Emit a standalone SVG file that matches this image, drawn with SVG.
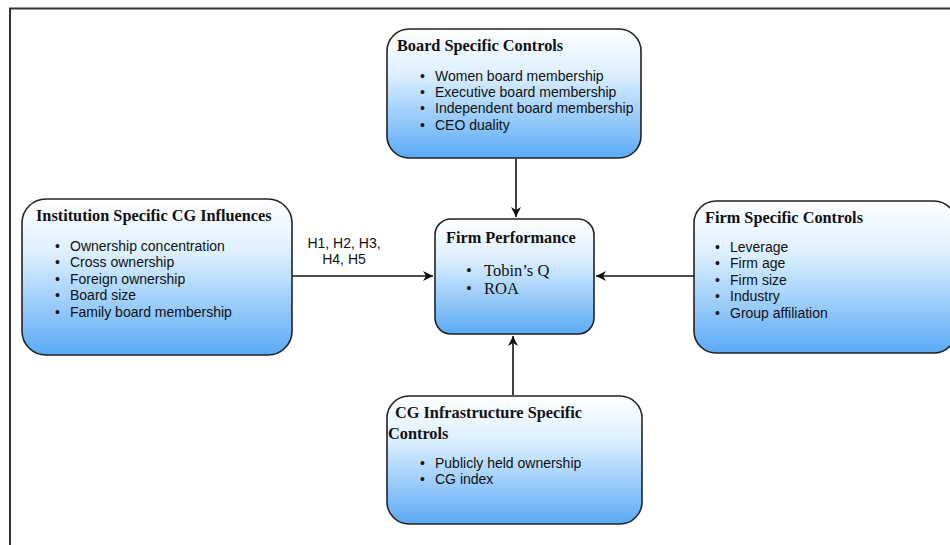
<svg xmlns="http://www.w3.org/2000/svg" width="950" height="545" viewBox="0 0 950 545">
<defs>
<linearGradient id="g" x1="0" y1="0" x2="0" y2="1">
<stop offset="0" stop-color="#ffffff"/>
<stop offset="0.35" stop-color="#dcefff"/>
<stop offset="1" stop-color="#5aaaf5"/>
</linearGradient>
<marker id="ah" viewBox="0 0 10 10" refX="10" refY="5" markerWidth="10" markerHeight="10" markerUnits="userSpaceOnUse" orient="auto">
<path d="M0,0 L10,5 L0,10 L3,5 Z" fill="#111"/>
</marker>
<style>
.box{fill:url(#g);stroke:#222;stroke-width:1.6}
.t{font-family:"Liberation Serif","Times New Roman",serif;font-weight:bold;font-size:16.3px;fill:#111}
.s{font-family:"Liberation Sans",Arial,sans-serif;font-size:14px;fill:#111}
.r{font-family:"Liberation Serif","Times New Roman",serif;font-size:16.5px;fill:#111}
.c{stroke:#111;stroke-width:1.6;fill:none;marker-end:url(#ah)}
</style>
</defs>
<rect width="950" height="545" fill="#fff"/>
<path d="M10,545 V8.5 H950" fill="none" stroke="#333" stroke-width="2"/>
<g id="connectors">
<line class="c" x1="516" y1="159" x2="516" y2="217"/>
<line class="c" x1="513" y1="395" x2="513" y2="336"/>
<line class="c" x1="292" y1="276" x2="433" y2="276"/>
<line class="c" x1="694" y1="276" x2="596" y2="276"/>
<text class="s" x="344" y="248" text-anchor="middle">H1, H2, H3,</text>
<text class="s" x="344" y="264" text-anchor="middle">H4, H5</text>
</g>
<g id="board">
<rect class="box" x="387" y="29" width="254" height="129" rx="22"/>
<text class="t" x="397" y="51">Board Specific Controls</text>
<text class="s"><tspan x="420" y="81">•</tspan><tspan x="435" y="81">Women board membership</tspan><tspan x="420" y="97">•</tspan><tspan x="435" y="97">Executive board membership</tspan><tspan x="420" y="113">•</tspan><tspan x="435" y="113">Independent board membership</tspan><tspan x="420" y="130">•</tspan><tspan x="435" y="130">CEO duality</tspan></text>
</g>
<g id="institution">
<rect class="box" x="22" y="199" width="270" height="156" rx="24"/>
<text class="t" x="36" y="221">Institution Specific CG Influences</text>
<text class="s"><tspan x="55" y="251">•</tspan><tspan x="70" y="251">Ownership concentration</tspan><tspan x="55" y="267">•</tspan><tspan x="70" y="267">Cross ownership</tspan><tspan x="55" y="284">•</tspan><tspan x="70" y="284">Foreign ownership</tspan><tspan x="55" y="300">•</tspan><tspan x="70" y="300">Board size</tspan><tspan x="55" y="317">•</tspan><tspan x="70" y="317">Family board membership</tspan></text>
</g>
<g id="performance">
<rect class="box" x="435" y="219" width="159" height="115" rx="16"/>
<text class="t" x="446" y="243">Firm Performance</text>
<text class="r"><tspan x="466" y="276">•</tspan><tspan x="484" y="276">Tobin’s Q</tspan><tspan x="466" y="294">•</tspan><tspan x="484" y="294">ROA</tspan></text>
</g>
<g id="firm">
<rect class="box" x="694" y="201" width="262" height="152" rx="22"/>
<text class="t" x="705" y="223">Firm Specific Controls</text>
<text class="s"><tspan x="715" y="252">•</tspan><tspan x="730" y="252">Leverage</tspan><tspan x="715" y="268">•</tspan><tspan x="730" y="268">Firm age</tspan><tspan x="715" y="285">•</tspan><tspan x="730" y="285">Firm size</tspan><tspan x="715" y="301">•</tspan><tspan x="730" y="301">Industry</tspan><tspan x="715" y="318">•</tspan><tspan x="730" y="318">Group affiliation</tspan></text>
</g>
<g id="infrastructure">
<rect class="box" x="387" y="396" width="255" height="128" rx="22"/>
<text class="t" x="395" y="418">CG Infrastructure Specific</text>
<text class="t" x="388" y="439">Controls</text>
<text class="s"><tspan x="420" y="468">•</tspan><tspan x="435" y="468">Publicly held ownership</tspan><tspan x="420" y="484">•</tspan><tspan x="435" y="484">CG index</tspan></text>
</g>
</svg>
